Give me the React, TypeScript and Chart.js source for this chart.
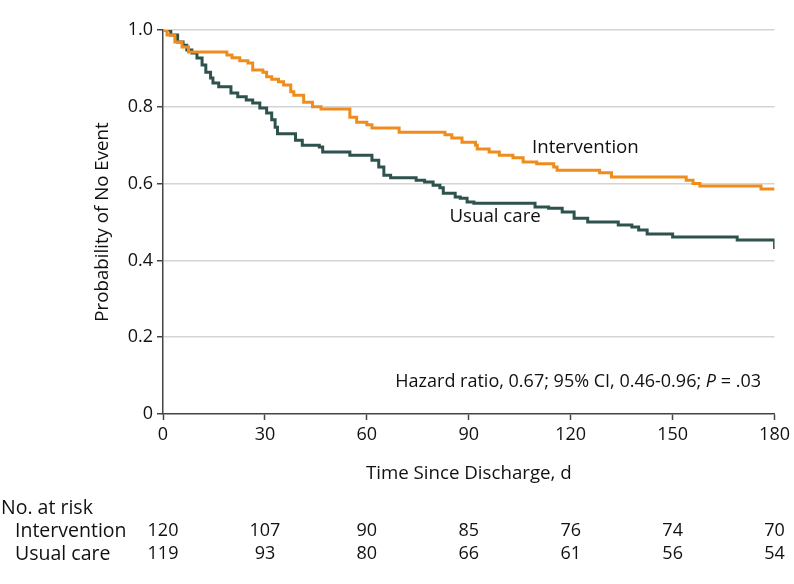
import React, { useEffect, useRef } from "react";
import { Chart, registerables } from "chart.js";

Chart.register(...registerables);

const interventionDays = [0, 1.2, 3.5, 5.6, 7.5, 18.8, 20.3, 22.6, 25, 26.4, 29.4, 30.5, 32, 34, 35.5, 37.6, 38.5, 41.4, 44, 46.5, 55, 57, 60, 61.5, 69.5, 83, 85, 88, 92, 92.5, 96, 99, 103, 106, 110, 115, 116, 128.5, 132, 154, 156, 158, 176, 180];
const interventionSurv = [1.0, 0.987, 0.969, 0.956, 0.943, 0.935, 0.928, 0.92, 0.914, 0.896, 0.89, 0.878, 0.872, 0.865, 0.857, 0.839, 0.83, 0.812, 0.8, 0.794, 0.773, 0.76, 0.753, 0.745, 0.734, 0.727, 0.719, 0.708, 0.7, 0.69, 0.682, 0.674, 0.667, 0.656, 0.652, 0.643, 0.635, 0.628, 0.617, 0.609, 0.6, 0.594, 0.586, 0.586];

const usualDays = [0, 2.3, 4.3, 5.9, 7, 8.5, 10, 11.5, 12.6, 14, 14.7, 16.4, 20, 22, 24.5, 26.4, 28.5, 30.5, 32, 33, 33.7, 39, 41, 46, 47, 55, 61.5, 63.5, 65, 67, 74.5, 77, 79.5, 81.5, 82.5, 86, 87.5, 89.5, 91.5, 109.5, 113.5, 117.5, 121, 125, 134, 138, 140, 142.5, 150, 169, 179.8, 180];
const usualSurv = [1.0, 0.987, 0.969, 0.96, 0.948, 0.94, 0.927, 0.909, 0.89, 0.875, 0.862, 0.852, 0.836, 0.826, 0.818, 0.81, 0.797, 0.784, 0.766, 0.747, 0.73, 0.713, 0.7, 0.695, 0.682, 0.674, 0.661, 0.643, 0.622, 0.615, 0.609, 0.604, 0.596, 0.589, 0.575, 0.565, 0.562, 0.552, 0.549, 0.539, 0.536, 0.526, 0.51, 0.5, 0.492, 0.487, 0.479, 0.469, 0.461, 0.453, 0.453, 0.43];

const xTicks = [0, 30, 60, 90, 120, 150, 180];
const atRiskIntervention = [120, 107, 90, 85, 76, 74, 70];
const atRiskUsual = [119, 93, 80, 66, 61, 56, 54];

const ORANGE = "#EF8C1E";
const GREEN = "#2E534F";
const FONT = "'Open Sans', 'DejaVu Sans', sans-serif";

export default function App() {
  const ref = useRef<HTMLCanvasElement | null>(null);

  useEffect(() => {
    document.body.style.margin = "0";
    const canvas = ref.current;
    if (!canvas) return;

    const overlay = {
      id: "overlay",
      afterDraw(chart: any) {
        const ctx = chart.ctx;
        const xs = chart.scales.x;
        const ys = chart.scales.y;
        const area = chart.chartArea;
        ctx.save();
        ctx.fillStyle = "#111";
        ctx.textBaseline = "middle";

        // inline series labels
        ctx.font = `18.7px ${FONT}`;
        ctx.textAlign = "left";
        ctx.fillText("Intervention", xs.getPixelForValue(108.6), ys.getPixelForValue(0.693));
        ctx.fillText("Usual care", xs.getPixelForValue(84.3), ys.getPixelForValue(0.513));

        // hazard ratio text (right aligned, P italic)
        const part1 = "Hazard ratio, 0.67; 95% CI, 0.46-0.96; ";
        const partP = "P";
        const part3 = " = .03";
        const hf = `18px ${FONT}`;
        const hfi = `italic 18px ${FONT}`;
        ctx.font = hf;
        const w1 = ctx.measureText(part1).width;
        const w3 = ctx.measureText(part3).width;
        ctx.font = hfi;
        const wP = ctx.measureText(partP).width;
        const endX = xs.getPixelForValue(176);
        const hy = ys.getPixelForValue(0.083);
        let sx = endX - (w1 + wP + w3);
        ctx.textAlign = "left";
        ctx.font = hf;
        ctx.fillText(part1, sx, hy);
        sx += w1;
        ctx.font = hfi;
        ctx.fillText(partP, sx, hy);
        sx += wP;
        ctx.font = hf;
        ctx.fillText(part3, sx, hy);

        // axis titles
        ctx.font = `18.7px ${FONT}`;
        ctx.textAlign = "center";
        ctx.fillText("Time Since Discharge, d", (area.left + area.right) / 2, area.bottom + 60);
        ctx.save();
        ctx.translate(103, (area.top + area.bottom) / 2);
        ctx.rotate(-Math.PI / 2);
        ctx.fillText("Probability of No Event", 0, 0);
        ctx.restore();

        // number at risk table
        ctx.font = `19.5px ${FONT}`;
        ctx.textAlign = "left";
        ctx.fillText("No. at risk", 1, area.bottom + 94);
        ctx.fillText("Intervention", 15, area.bottom + 117);
        ctx.fillText("Usual care", 15, area.bottom + 140);
        ctx.font = `18px ${FONT}`;
        ctx.textAlign = "center";
        xTicks.forEach((t, i) => {
          const px = xs.getPixelForValue(t);
          ctx.fillText(String(atRiskIntervention[i]), px, area.bottom + 117);
          ctx.fillText(String(atRiskUsual[i]), px, area.bottom + 140);
        });
        ctx.restore();
      },
    };

    const chart = new Chart(canvas, {
      type: "line",
      data: {
        datasets: [
          {
            label: "Intervention",
            data: interventionDays.map((d, i) => ({ x: d, y: interventionSurv[i] })),
            borderColor: ORANGE,
            borderWidth: 3,
            pointRadius: 0,
            stepped: "before",
            fill: false,
          },
          {
            label: "Usual care",
            data: usualDays.map((d, i) => ({ x: d, y: usualSurv[i] })),
            borderColor: GREEN,
            borderWidth: 3,
            pointRadius: 0,
            stepped: "before",
            fill: false,
          },
        ],
      },
      options: {
        responsive: false,
        animation: false,
        layout: { padding: { top: 30, right: 18, bottom: 0, left: 0 } },
        plugins: { legend: { display: false }, tooltip: { enabled: false }, title: { display: false } },
        scales: {
          x: {
            type: "linear",
            min: 0,
            max: 180,
            afterFit: (s: any) => {
              s.height = 170;
            },
            afterBuildTicks: (s: any) => {
              s.ticks = xTicks.map((v) => ({ value: v }));
            },
            ticks: {
              font: { family: FONT, size: 18 },
              color: "#111",
              padding: 4,
              maxRotation: 0,
              autoSkip: false,
            },
            grid: { drawOnChartArea: false, tickLength: 6, tickColor: "#444", tickWidth: 1.5 },
            border: { color: "#444", width: 1.5 },
          },
          y: {
            min: 0,
            max: 1,
            afterFit: (s: any) => {
              s.width = 163;
            },
            ticks: {
              stepSize: 0.2,
              font: { family: FONT, size: 18 },
              color: "#111",
              padding: 4,
              callback: (v: any) => (Number(v) === 0 ? "0" : Number(v).toFixed(1)),
            },
            grid: {
              color: (c: any) => (c.tick && c.tick.value === 0 ? "rgba(0,0,0,0)" : "#d4d4d4"),
              lineWidth: 1.5,
              tickLength: 6,
              tickColor: "#444",
              tickWidth: 1.5,
            },
            border: { color: "#444", width: 1.5 },
          },
        },
      },
      plugins: [overlay],
    });

    return () => {
      chart.destroy();
    };
  }, []);

  return (
    <div style={{ width: 794, height: 584 }}>
      <canvas ref={ref} width={794} height={584} style={{ display: "block" }} />
    </div>
  );
}
